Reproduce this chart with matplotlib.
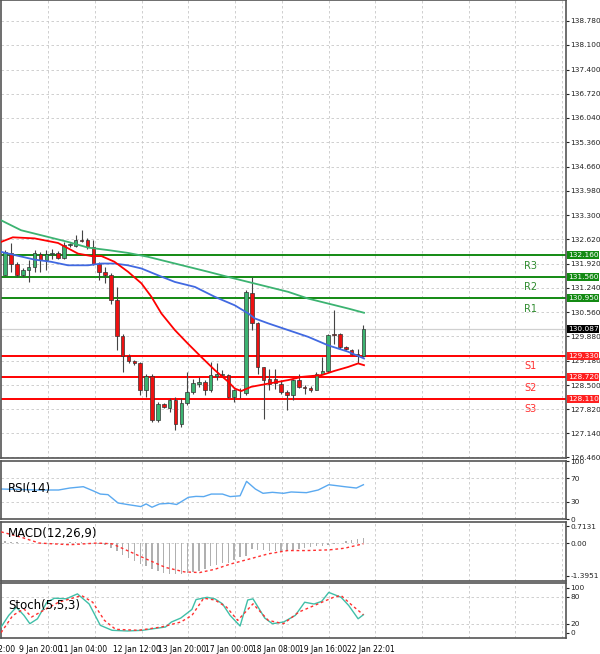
import numpy as np
import matplotlib
matplotlib.use('Agg')
import matplotlib.pyplot as plt
from matplotlib.transforms import blended_transform_factory

# candles (open, high, low, close)
opens = [131.60, 132.23, 131.93, 131.60, 131.74, 131.84, 132.21, 132.03, 132.19, 132.23,
         132.10, 132.45, 132.42, 132.59, 132.59, 132.40, 131.91, 131.70, 131.60, 130.90,
         129.88, 129.31, 129.18, 129.12, 128.35, 128.75, 127.51, 127.96, 127.84, 128.07,
         127.41, 127.98, 128.31, 128.54, 128.59, 128.35, 128.75, 128.78, 128.78, 128.16,
         128.35, 128.28, 131.10, 130.25, 129.01, 128.68, 128.68, 128.54, 128.31, 128.21,
         128.63, 128.45, 128.43, 128.37, 128.82, 128.90, 129.93, 129.93, 129.56, 129.50,
         129.39, 129.31]
highs = [132.31, 132.50, 131.98, 131.79, 132.03, 132.31, 132.26, 132.31, 132.35, 132.29,
         132.54, 132.51, 132.73, 132.87, 132.64, 132.59, 131.98, 131.84, 131.65, 131.27,
         129.95, 129.37, 129.22, 129.15, 128.82, 128.82, 128.02, 127.99, 128.12, 128.16,
         128.12, 128.87, 128.68, 128.73, 128.63, 129.15, 129.11, 128.92, 128.82, 128.40,
         128.42, 131.18, 131.55, 130.28, 129.01, 128.96, 128.96, 128.63, 128.35, 128.68,
         128.82, 128.50, 128.47, 128.87, 129.29, 129.95, 130.61, 129.97, 129.60, 129.52,
         129.53, 130.19]
lows = [131.60, 131.70, 131.55, 131.55, 131.41, 131.70, 131.70, 131.74, 132.07, 132.07,
        132.07, 132.40, 132.40, 132.54, 132.35, 131.88, 131.46, 131.37, 130.80, 129.48,
        128.87, 129.11, 129.06, 128.21, 128.16, 127.46, 127.46, 127.86, 127.74, 127.24,
        127.32, 127.93, 128.26, 128.45, 128.21, 128.31, 128.63, 128.73, 128.12, 128.02,
        128.12, 128.21, 130.05, 128.82, 127.55, 128.35, 128.40, 128.26, 127.79, 128.09,
        128.43, 128.25, 128.30, 128.35, 128.80, 128.87, 129.67, 129.53, 129.50, 129.34,
        129.11, 129.29]
closes = [132.26, 131.93, 131.60, 131.74, 131.84, 132.23, 132.03, 132.21, 132.23, 132.10,
          132.45, 132.48, 132.59, 132.57, 132.40, 131.93, 131.70, 131.60, 130.90, 129.88,
          129.31, 129.18, 129.12, 128.35, 128.75, 127.51, 127.96, 127.88, 128.07, 127.41,
          127.98, 128.31, 128.56, 128.59, 128.35, 128.78, 128.82, 128.82, 128.16, 128.35,
          128.37, 131.13, 130.24, 129.01, 128.63, 128.54, 128.56, 128.31, 128.21, 128.63,
          128.45, 128.42, 128.37, 128.80, 128.90, 129.91, 129.91, 129.56, 129.53, 129.37,
          129.31, 130.09]

# moving averages (candle index, price)
ma_red_x = [-0.7, 1.3, 5.0, 9.0, 12.4, 14.7, 16.4, 18.6, 20.9, 23.2, 24.9, 26.6, 28.9, 31.1,
            33.4, 35.7, 38.0, 39.1, 40.2, 41.9, 44.8, 48.2, 50.5, 53.9, 56.1, 58.4, 60.1, 61.1]
ma_red_y = [132.54, 132.67, 132.64, 132.51, 132.21, 132.14, 132.14, 131.98, 131.70, 131.37,
            130.99, 130.52, 130.05, 129.67, 129.29, 128.92, 128.59, 128.40, 128.33, 128.45,
            128.54, 128.64, 128.73, 128.78, 128.90, 129.01, 129.11, 129.06]
ma_blue_x = [-0.7, 1.6, 5.0, 7.8, 10.7, 14.1, 16.4, 18.6, 20.9, 23.2, 26.0, 28.9, 32.3, 35.7,
             39.1, 41.4, 42.5, 44.8, 48.2, 51.6, 55.0, 58.4, 61.1]
ma_blue_y = [132.26, 132.17, 132.04, 131.98, 131.88, 131.88, 131.93, 131.93, 131.88, 131.79,
             131.60, 131.41, 131.27, 130.99, 130.75, 130.52, 130.38, 130.24, 130.05, 129.86,
             129.62, 129.44, 129.25]
ma_green_x = [-0.7, 2.7, 6.1, 10.7, 14.1, 17.5, 20.9, 24.3, 27.7, 31.1, 34.5, 38.0, 41.4,
              44.8, 48.2, 51.6, 55.0, 58.4, 61.1]
ma_green_y = [133.15, 132.87, 132.73, 132.54, 132.38, 132.31, 132.23, 132.12, 131.98, 131.84,
              131.70, 131.55, 131.41, 131.27, 131.13, 130.94, 130.80, 130.66, 130.54]

resist = [132.160, 131.560, 130.950]
support = [129.330, 128.720, 128.110]
last_price = 130.087
price_ticks = [138.780, 138.100, 137.400, 136.720, 136.040, 135.360, 134.660, 133.980,
               133.300, 132.620, 131.920, 131.240, 130.560, 129.880, 129.180, 128.500,
               127.820, 127.140, 126.460]

rsi_x = [-0.7, 5.8, 9.1, 11.0, 13.3, 14.9, 16.2, 17.5, 19.2, 20.8, 23.1, 24.0, 25.0, 26.3,
         28.0, 29.2, 31.2, 32.5, 33.8, 35.1, 37.0, 38.3, 40.0, 41.1, 42.6, 43.9, 45.5, 47.4,
         48.7, 51.3, 53.3, 55.1, 56.5, 57.8, 59.8, 61.0]
rsi_y = [51.7, 50, 50, 53.4, 55.7, 48.9, 43, 42, 27.7, 25, 21.4, 26, 20.3, 26, 27, 25, 37.4,
         39, 38.6, 43, 43, 38.6, 40, 64.9, 51.7, 44.3, 46, 44.3, 46.6, 45.4, 50, 59.1, 57.4,
         55.7, 53.4, 59.1]

macd_hist = [0.08, 0.06, 0.04, 0.02, 0.0, -0.01, -0.01, 0.0, 0.01, 0.02, 0.02, 0.03, 0.04,
             0.03, 0.02, 0.0, -0.03, -0.08, -0.2, -0.35, -0.5, -0.62, -0.75, -0.88, -1.0,
             -1.1, -1.2, -1.26, -1.3, -1.33, -1.3, -1.26, -1.22, -1.2, -1.1, -1.0, -0.92,
             -0.86, -0.83, -0.72, -0.6, -0.54, -0.25, -0.28, -0.3, -0.32, -0.32, -0.32, -0.32,
             -0.28, -0.24, -0.2, -0.17, -0.14, -0.12, -0.1, -0.04, 0.02, 0.07, 0.12, 0.19, 0.2]
macd_sig_x = [-0.7, 2.6, 5.8, 11.0, 15.6, 18.2, 20.8, 24.0, 27.3, 30.5, 33.1, 35.7, 38.3,
              41.6, 44.8, 48.1, 51.3, 55.2, 57.8, 61.0]
macd_sig_y = [0.48, 0.26, 0.0, -0.07, 0.0, -0.03, -0.32, -0.68, -1.04, -1.23, -1.26, -1.12,
              -0.9, -0.68, -0.46, -0.32, -0.32, -0.29, -0.22, -0.03]

stoch_x = [-0.7, 0.6, 1.9, 3.2, 4.2, 5.5, 7.1, 8.4, 10.4, 12.3, 14.3, 16.2, 18.2, 20.8,
           23.4, 25.3, 27.3, 28.3, 29.9, 31.8, 32.5, 34.4, 35.7, 37.0, 38.3, 40.0, 41.3,
           42.2, 44.2, 45.5, 47.4, 49.4, 51.0, 52.6, 53.9, 55.1, 57.2, 58.5, 60.1, 61.0]
stoch_k = [12.6, 38.5, 57, 38.5, 20, 31, 68, 77, 75.6, 86.7, 64, 16.3, 5.2, 3.7, 5.2, 8.9,
           12.6, 23.7, 32.6, 51.9, 74, 79, 75.6, 64.4, 38.5, 14.8, 73, 75.6, 32.6, 20, 23.7,
           38.5, 68, 64, 70, 90, 79, 60.7, 31, 40]
stoch_sx = [-0.7, 1.3, 3.2, 4.5, 6.5, 9.1, 13.0, 14.9, 16.9, 18.8, 22.7, 26.6, 29.9, 31.8,
            33.8, 35.7, 37.7, 39.6, 42.2, 44.8, 47.4, 50.0, 53.3, 55.9, 57.2, 59.1, 61.0]
stoch_d = [0, 38.5, 53, 35, 49.6, 68, 83, 68, 27.4, 7.4, 5.2, 12.6, 23.7, 38.5, 77, 73, 57,
           27.4, 64.4, 27.4, 20, 46, 64.4, 79, 83, 60.7, 40]

date_labels = ['8 Jan 12:00', '9 Jan 20:00', '11 Jan 04:00', '12 Jan 12:00', '13 Jan 20:00',
               '17 Jan 00:00', '18 Jan 08:00', '19 Jan 16:00', '22 Jan 22:01']
date_pos = [-1.9, 6.1, 13.3, 22.4, 30.2, 38.2, 46.2, 54.2, 62.2]

GRID = '#c8c8c8'
XMIN, XMAX = -0.68, 95.5
W, H = 600, 654


def frame(top, bottom):
    ax = fig.add_axes([0.002, 1 - bottom / H, 566 / W - 0.002, (bottom - top) / H])
    ax.set_xlim(XMIN, XMAX)
    ax.yaxis.tick_right()
    ax.tick_params(axis='y', labelsize=5.3, length=2, pad=1, colors='#222')
    ax.tick_params(axis='x', bottom=False, labelbottom=False)
    for s in ax.spines.values():
        s.set_color('#555')
        s.set_linewidth(1.2)
    for gx in np.arange(7.3, XMAX, 7.96):
        ax.axvline(gx, color=GRID, lw=0.6, ls=(0, (3, 3)), zorder=0)
    return ax


fig = plt.figure(figsize=(W / 100, H / 100), dpi=100)

# main price panel
ax = frame(0, 458)
ax.set_ylim(126.46 - 0.02, 126.46 + 457 / 35.4)
ax.set_yticks(price_ticks)
ax.set_yticklabels([f'{v:.3f}' for v in price_ticks])
for v in price_ticks:
    ax.axhline(v, color=GRID, lw=0.6, ls=(0, (3, 3)), zorder=0)
ax.axhline(last_price, color='#d0d0d0', lw=0.9, zorder=1)

idx = np.arange(len(opens))
for i in idx:
    o, h, l, c = opens[i], highs[i], lows[i], closes[i]
    up = c >= o
    ax.vlines(i, l, h, color='#444', lw=0.8, zorder=3)
    body = max(abs(c - o), 0.02)
    ax.bar(i, body, bottom=min(o, c), width=0.6,
           color='#3cb371' if up else '#ee1111', edgecolor='#333', lw=0.5, zorder=4)

ax.plot(ma_green_x, ma_green_y, color='#3cb371', lw=1.3, zorder=5)
ax.plot(ma_blue_x, ma_blue_y, color='#4169e1', lw=1.3, zorder=5)
ax.plot(ma_red_x, ma_red_y, color='#ff0000', lw=1.3, zorder=5)

tr = blended_transform_factory(ax.transAxes, ax.transData)
box = dict(boxstyle='square,pad=0.12', ec='none')
for name, v in zip(['R3', 'R2', 'R1'], resist):
    ax.axhline(v, color='#138a13', lw=1.4, zorder=2)
    ax.text(89.5, v - 0.15, name, color='#2e8b2e', fontsize=7, ha='center', va='top')
    ax.text(1.003, v, f'{v:.3f}', transform=tr, color='white', fontsize=5.3, va='center',
            bbox=dict(box, fc='#138a13'), clip_on=False, zorder=10)
for name, v in zip(['S1', 'S2', 'S3'], support):
    ax.axhline(v, color='#ff0000', lw=1.4, zorder=2)
    ax.text(89.5, v - 0.15, name, color='#ff3030', fontsize=7, ha='center', va='top')
    ax.text(1.003, v, f'{v:.3f}', transform=tr, color='white', fontsize=5.3, va='center',
            bbox=dict(box, fc='#ff2020'), clip_on=False, zorder=10)
ax.text(1.003, last_price, f'{last_price:.3f}', transform=tr, color='white', fontsize=5.3,
        va='center', bbox=dict(box, fc='black'), clip_on=False, zorder=10)

# RSI
ax_r = frame(461, 519)
ax_r.set_ylim(0, 100)
ax_r.set_yticks([0, 30, 70, 100])
for v in [30, 70]:
    ax_r.axhline(v, color=GRID, lw=0.6, ls=(0, (3, 3)), zorder=0)
ax_r.plot(rsi_x, rsi_y, color='#5aa9f0', lw=1)
ax_r.text(0.5, 52, 'RSI(14)', fontsize=8.5, va='center')

# MACD
ax_m = frame(522, 581)
ax_m.set_ylim(-1.62, 0.9)
ax_m.set_yticks([0.7131, 0.0, -1.3951])
ax_m.set_yticklabels(['0.7131', '0.00', '-1.3951'])
ax_m.axhline(0, color=GRID, lw=0.6, ls=(0, (3, 3)), zorder=0)
ax_m.bar(idx, macd_hist, width=0.25, color='#b0b0b0', zorder=2)
ax_m.plot(macd_sig_x, macd_sig_y, color='#ff3030', lw=1, ls=(0, (2, 2)), zorder=3)
ax_m.text(0.5, 0.4, 'MACD(12,26,9)', fontsize=8.5, va='center')

# Stochastic
ax_s = frame(583, 638)
ax_s.set_ylim(-12, 111)
ax_s.set_yticks([0, 20, 80, 100])
for v in [20, 80]:
    ax_s.axhline(v, color=GRID, lw=0.6, ls=(0, (3, 3)), zorder=0)
ax_s.plot(stoch_x, stoch_k, color='#40bfa8', lw=1, zorder=3)
ax_s.plot(stoch_sx, stoch_d, color='#ff3030', lw=1, ls=(0, (2, 2)), zorder=3)
ax_s.text(0.5, 60, 'Stoch(5,5,3)', fontsize=8.5, va='center')

for lab, p in zip(date_labels, date_pos):
    ax_s.text(p, -0.12, lab, transform=blended_transform_factory(ax_s.transData, ax_s.transAxes),
              fontsize=5.5, ha='center', va='top', clip_on=False)

fig.savefig('out.png', dpi=100, facecolor='white')
